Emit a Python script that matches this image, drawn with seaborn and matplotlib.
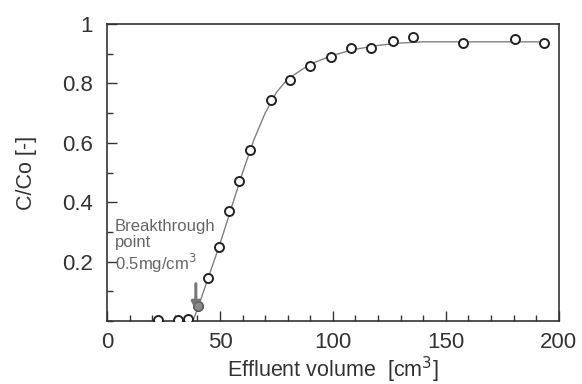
import numpy as np
import pandas as pd
import seaborn as sns
import matplotlib.pyplot as plt
from matplotlib.ticker import MultipleLocator

# Measured points (effluent volume, C/Co)
vol_pts = [22.6, 31.4, 35.9, 40.3, 44.8, 49.4, 54.0, 58.5, 63.2, 72.4, 81.0,
           90.0, 99.0, 108.0, 117.0, 126.5, 135.5, 157.5, 180.5, 193.4]
conc_pts = [0.005, 0.005, 0.008, 0.05, 0.145, 0.25, 0.37, 0.473, 0.575, 0.743, 0.81,
            0.86, 0.89, 0.918, 0.92, 0.942, 0.956, 0.936, 0.949, 0.936]

# Fitted curve
vol_fit = [38, 40, 45, 50, 55, 60, 65, 70, 75, 80, 90, 100, 110, 120, 130, 140, 160, 180, 195]
conc_fit = [0.0, 0.04, 0.15, 0.26, 0.38, 0.50, 0.61, 0.70, 0.77, 0.815, 0.865, 0.895,
            0.915, 0.928, 0.936, 0.94, 0.94, 0.94, 0.94]

# Breakthrough point
bt_vol = 40.3
bt_conc = 0.05

sns.set_style("ticks")
plt.rcParams['font.family'] = ['Liberation Sans', 'DejaVu Sans']

fig = plt.figure(figsize=(5.82, 3.84), dpi=100)
ax = fig.add_axes([0.184, 0.164, 0.776, 0.7735])

fit_df = pd.DataFrame({'vol': vol_fit, 'conc': conc_fit})
pts_df = pd.DataFrame({'vol': vol_pts, 'conc': conc_pts})

sns.lineplot(data=fit_df, x='vol', y='conc', ax=ax, color='#808080', linewidth=1.0)
sns.scatterplot(data=pts_df, x='vol', y='conc', ax=ax, marker='o', s=42,
                facecolor='white', edgecolor='#222222', linewidth=1.4, zorder=3)
ax.scatter([bt_vol], [bt_conc], s=42, color='#8a8a8a', edgecolor='#666666', zorder=4)

# Arrow and label for breakthrough
ax.annotate('', xy=(bt_vol - 1.0, 0.025), xytext=(bt_vol - 1.0, 0.135),
            arrowprops=dict(arrowstyle='-|>', color='#777777', lw=2.2, mutation_scale=13))
ax.text(3.5, 0.345, 'Breakthrough\npoint\n0.5mg/cm$^3$', color='#666666', fontsize=12,
        va='top', ha='left', linespacing=1.1)

ax.set_xlim(0, 200)
ax.set_ylim(0, 1)
ax.set_xticks([0, 50, 100, 150, 200])
ax.set_yticks([0.2, 0.4, 0.6, 0.8, 1.0])
ax.set_yticklabels(['0.2', '0.4', '0.6', '0.8', '1'])
ax.xaxis.set_minor_locator(MultipleLocator(10))
ax.yaxis.set_minor_locator(MultipleLocator(0.1))
ax.tick_params(which='major', direction='in', length=7, width=1, labelsize=16,
               colors='#333333', top=False, right=False)
ax.tick_params(axis='x', which='major', pad=8)
ax.tick_params(axis='y', which='major', pad=10)
ax.tick_params(which='minor', direction='in', length=4, width=1, top=False, right=False,
               colors='#333333')

for s in ax.spines.values():
    s.set_color('#333333')
    s.set_linewidth(1.2)
    s.set_visible(True)

ax.set_xlabel('Effluent volume  [cm$^3$]', fontsize=15.5, color='#333333', labelpad=1)
ax.set_ylabel('C/Co [-]', fontsize=15.5, color='#333333', labelpad=18)

plt.savefig('out.png', dpi=100)
